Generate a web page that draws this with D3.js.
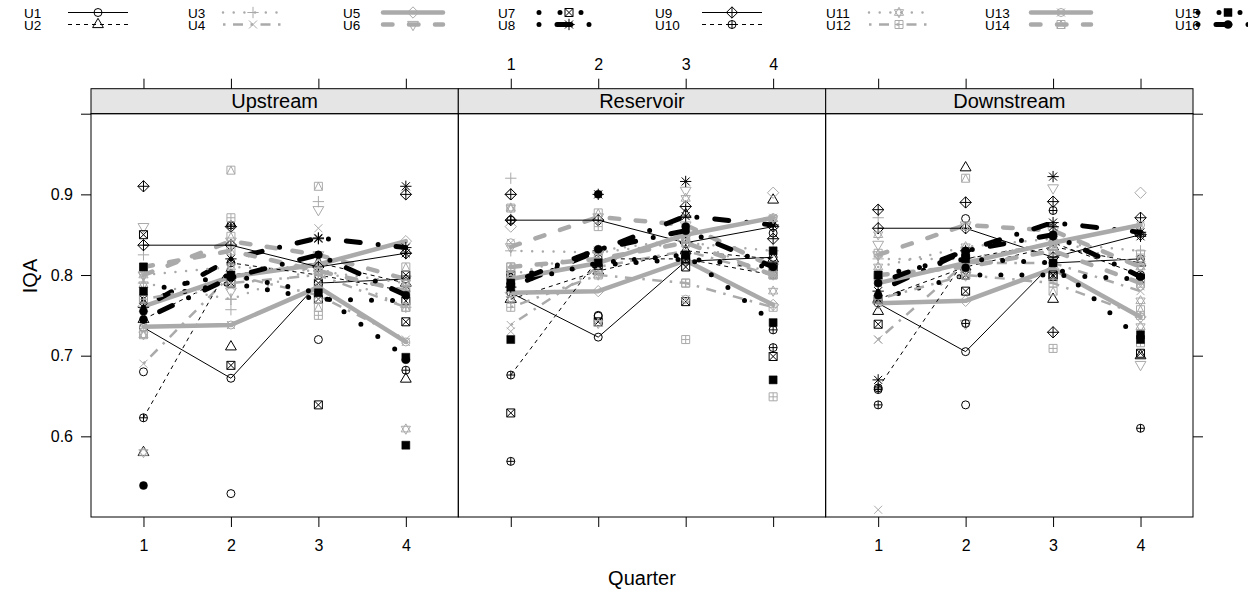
<!DOCTYPE html>
<meta charset="utf-8">
<script src="https://cdn.jsdelivr.net/npm/d3@7"></script>
<style>
  body { margin: 0; background: #fff; }
  text { font-family: "Liberation Sans", Arial, sans-serif; fill: #000; }
</style>
<div id="chart"></div>
<script>
const panels = ["Upstream", "Reservoir", "Downstream"];
const quarters = [1, 2, 3, 4];
const groups = ["U1","U2","U3","U4","U5","U6","U7","U8","U9","U10","U11","U12","U13","U14","U15","U16"];
const yTicks = [0.6, 0.7, 0.8, 0.9, 1.0];

// quarterly averages (line vertices), one row per group
const meanUp = [
  [0.735, 0.672, 0.790, 0.795], [0.745, 0.800, 0.815, 0.790],
  [0.790, 0.770, 0.810, 0.760], [0.690, 0.800, 0.775, 0.720],
  [0.761, 0.798, 0.813, 0.842], [0.800, 0.842, 0.825, 0.795],
  [0.770, 0.790, 0.770, 0.768], [0.760, 0.820, 0.846, 0.834],
  [0.837, 0.837, 0.810, 0.827], [0.623, 0.815, 0.800, 0.780],
  [0.800, 0.810, 0.805, 0.790], [0.770, 0.790, 0.800, 0.760],
  [0.736, 0.738, 0.785, 0.717], [0.810, 0.830, 0.805, 0.780],
  [0.780, 0.800, 0.778, 0.698], [0.745, 0.797, 0.825, 0.775]
];
const meanRes = [
  [0.778, 0.723, 0.817, 0.822], [0.770, 0.805, 0.830, 0.820],
  [0.830, 0.828, 0.840, 0.830], [0.738, 0.810, 0.830, 0.800],
  [0.778, 0.780, 0.818, 0.763], [0.835, 0.872, 0.862, 0.810],
  [0.800, 0.812, 0.820, 0.810], [0.785, 0.830, 0.873, 0.862],
  [0.868, 0.868, 0.840, 0.860], [0.676, 0.820, 0.820, 0.800],
  [0.800, 0.830, 0.845, 0.800], [0.760, 0.800, 0.790, 0.760],
  [0.795, 0.815, 0.850, 0.871], [0.810, 0.820, 0.840, 0.800],
  [0.790, 0.815, 0.825, 0.741], [0.790, 0.832, 0.855, 0.810]
];
const meanDown = [
  [0.765, 0.705, 0.815, 0.820], [0.770, 0.810, 0.835, 0.815],
  [0.820, 0.820, 0.840, 0.830], [0.720, 0.815, 0.815, 0.780],
  [0.765, 0.768, 0.808, 0.748], [0.825, 0.862, 0.855, 0.810],
  [0.770, 0.800, 0.800, 0.795], [0.780, 0.830, 0.865, 0.853],
  [0.858, 0.858, 0.822, 0.850], [0.660, 0.820, 0.840, 0.800],
  [0.810, 0.835, 0.845, 0.810], [0.770, 0.800, 0.790, 0.750],
  [0.790, 0.815, 0.840, 0.862], [0.800, 0.810, 0.830, 0.790],
  [0.800, 0.820, 0.815, 0.720], [0.790, 0.830, 0.850, 0.798]
];

// other observations: [group, quarter, IQA]
const obsUp = [
  ["U9",1,0.91],["U6",1,0.86],["U7",1,0.85],["U3",1,0.825],["U15",1,0.81],["U11",1,0.788],
  ["U16",1,0.755],["U11",1,0.726],["U14",1,0.726],["U1",1,0.68],["U2",1,0.58],["U11",1,0.58],["U16",1,0.539],
  ["U14",2,0.93],["U12",2,0.871],["U10",2,0.862],["U9",2,0.86],["U14",2,0.848],["U4",2,0.786],
  ["U3",2,0.77],["U3",2,0.757],["U2",2,0.711],["U7",2,0.688],["U1",2,0.529],["U6",2,0.78],
  ["U14",3,0.91],["U3",3,0.891],["U6",3,0.881],["U4",3,0.858],["U8",3,0.845],["U7",3,0.79],
  ["U10",3,0.78],["U12",3,0.75],["U1",3,0.72],["U7",3,0.639],["U13",3,0.77],["U14",3,0.76],
  ["U8",4,0.91],["U9",4,0.90],["U8",4,0.827],["U14",4,0.81],["U7",4,0.80],["U11",4,0.79],
  ["U14",4,0.76],["U7",4,0.742],["U16",4,0.695],["U10",4,0.682],["U2",4,0.671],["U11",4,0.609],["U15",4,0.589]
];
const obsRes = [
  ["U3",1,0.92],["U5",1,0.90],["U9",1,0.90],["U11",1,0.883],["U14",1,0.883],["U10",1,0.868],["U5",1,0.86],
  ["U13",1,0.84],["U12",1,0.81],["U15",1,0.785],["U11",1,0.77],["U2",1,0.77],["U4",1,0.73],["U15",1,0.72],
  ["U7",1,0.629],["U10",1,0.569],
  ["U16",2,0.90],["U8",2,0.90],["U14",2,0.877],["U12",2,0.86],["U11",2,0.80],["U1",2,0.749],
  ["U7",2,0.742],["U11",2,0.74],["U1",2,0.75],
  ["U8",3,0.916],["U6",3,0.905],["U11",3,0.895],["U9",3,0.885],["U2",3,0.875],["U16",3,0.86],
  ["U14",3,0.845],["U7",3,0.81],["U12",3,0.79],["U13",3,0.77],["U7",3,0.767],["U12",3,0.72],
  ["U5",4,0.902],["U2",4,0.893],["U11",4,0.87],["U1",4,0.852],["U9",4,0.845],["U15",4,0.83],
  ["U14",4,0.80],["U11",4,0.78],["U10",4,0.732],["U10",4,0.71],["U7",4,0.699],["U15",4,0.67],["U12",4,0.649]
];
const obsDown = [
  ["U9",1,0.881],["U3",1,0.871],["U11",1,0.85],["U6",1,0.838],["U14",1,0.827],["U12",1,0.797],
  ["U16",1,0.775],["U2",1,0.755],["U7",1,0.739],["U4",1,0.72],["U8",1,0.67],["U10",1,0.658],
  ["U10",1,0.639],["U4",1,0.509],
  ["U2",2,0.933],["U14",2,0.92],["U9",2,0.89],["U1",2,0.87],["U11",2,0.86],["U15",2,0.827],
  ["U16",2,0.809],["U6",2,0.80],["U7",2,0.78],["U10",2,0.74],["U6",2,0.74],["U1",2,0.639],
  ["U8",3,0.922],["U6",3,0.908],["U9",3,0.891],["U10",3,0.88],["U8",3,0.86],["U16",3,0.848],
  ["U11",3,0.835],["U7",3,0.798],["U14",3,0.78],["U2",3,0.77],["U9",3,0.729],["U12",3,0.709],
  ["U5",4,0.902],["U9",4,0.871],["U8",4,0.848],["U12",4,0.826],["U11",4,0.82],["U13",4,0.786],
  ["U11",4,0.768],["U14",4,0.757],["U11",4,0.736],["U15",4,0.726],["U12",4,0.716],["U7",4,0.703],
  ["U2",4,0.70],["U6",4,0.689],["U10",4,0.61]
];

const means = [meanUp, meanRes, meanDown];
const obs = [obsUp, obsRes, obsDown];

// line styles cycle every 8 groups
const black = "#000", grey = "#aaaaaa";
const styles = [
  {col: black, w: 1, dash: null, cap: "butt"},
  {col: black, w: 1, dash: "4,4", cap: "butt"},
  {col: grey, w: 2.5, dash: "0,10.7", cap: "round"},
  {col: grey, w: 2.5, dash: "2.5,7.5,10,7.5", cap: "butt"},
  {col: grey, w: 4.5, dash: null, cap: "round"},
  {col: grey, w: 4.5, dash: "9.5,16.5", cap: "round"},
  {col: black, w: 5, dash: "0,21", cap: "round"},
  {col: black, w: 5, dash: "0,18,14,18", cap: "round"}
];
const styleOf = i => styles[i % 8];

const width = 1248, height = 592;
const svg = d3.select("#chart").append("svg")
  .attr("width", width).attr("height", height);

const pLeft = [91, 458.3, 825.7], pW = 367.3, pTop = 113.7, pH = 403.3;
const stripH = 25;

const x = d3.scaleLinear().domain([0.4, 4.6]).range([0, pW]);
const y = d3.scaleLinear().domain([0.5, 1.0]).range([pH, 0]);

// symbols after R pch 1..16
const r = 4, s2 = Math.SQRT2 * r;
const circ = a => `M${a},0A${a},${a} 0 1 1 ${-a},0A${a},${a} 0 1 1 ${a},0Z`;
const sq = `M${-r},${-r}H${r}V${r}H${-r}Z`;
const plus = a => `M${-a},0H${a}M0,${-a}V${a}`;
const cross = a => `M${-a},${-a}L${a},${a}M${-a},${a}L${a},${-a}`;
const dia = a => `M0,${-a}L${a},0L0,${a}L${-a},0Z`;
const triUp = "M0,-6.2L5.4,3.1L-5.4,3.1Z";
const triDn = "M0,6.2L5.4,-3.1L-5.4,-3.1Z";
function symPath(pch) {
  switch (pch) {
    case 1: return circ(r);
    case 2: return triUp;
    case 3: return plus(s2);
    case 4: return cross(r);
    case 5: return dia(s2);
    case 6: return triDn;
    case 7: return sq + cross(r);
    case 8: return plus(s2) + cross(r);
    case 9: return dia(s2) + plus(s2);
    case 10: return circ(r) + plus(r);
    case 11: return "M0,-5.2L4.6,2.8L-4.6,2.8ZM0,5.2L4.6,-2.8L-4.6,-2.8Z";
    case 12: return sq + plus(r);
    case 13: return circ(r) + cross(r);
    case 14: return sq + `M${-r},${r}L0,${-r}L${r},${r}`;
    case 15: return sq;
    case 16: return circ(r);
  }
}
function drawSym(g, i, cx, cy) {
  const pch = i + 1, st = styleOf(i);
  const filled = pch >= 15;
  g.append("path")
    .attr("transform", `translate(${cx},${cy})`)
    .attr("d", symPath(pch))
    .attr("fill", filled ? st.col : "none")
    .attr("stroke", st.col)
    .attr("stroke-width", filled ? 0.5 : 1);
}
function styleLine(sel, i) {
  const st = styleOf(i);
  sel.attr("fill", "none")
    .attr("stroke", st.col)
    .attr("stroke-width", st.w)
    .attr("stroke-linecap", st.cap)
    .attr("stroke-linejoin", "round")
    .attr("stroke-dasharray", st.dash);
}

// legend: 8 columns of 2 rows
const legCols = [
  {tx: 24, sx: 98}, {tx: 188, sx: 253}, {tx: 343, sx: 413}, {tx: 498, sx: 569},
  {tx: 655, sx: 732}, {tx: 826, sx: 899}, {tx: 985, sx: 1061}, {tx: 1175, sx: 1228}
];
const legRows = [12.5, 24.5];
const leg = svg.append("g");
groups.forEach((name, i) => {
  const c = legCols[Math.floor(i / 2)], yy = legRows[i % 2];
  leg.append("text").attr("x", c.tx).attr("y", yy + 5)
    .style("font-size", "13.5px").text(name);
  leg.append("line").attr("x1", c.sx - 30).attr("x2", c.sx + 30)
    .attr("y1", yy).attr("y2", yy).call(styleLine, i);
  drawSym(leg, i, c.sx, yy);
});

panels.forEach((pname, p) => {
  const g = svg.append("g").attr("transform", `translate(${pLeft[p]},${pTop})`);

  // strip
  g.append("rect").attr("x", 0).attr("y", -stripH).attr("width", pW).attr("height", stripH)
    .attr("fill", "#e5e5e5").attr("stroke", "#000").attr("stroke-width", 1);
  g.append("text").attr("x", pW / 2).attr("y", -stripH / 2).attr("dy", "0.36em")
    .attr("text-anchor", "middle").style("font-size", "20px").text(pname);

  // axes: ticks on all sides, labels alternate
  const top = g.append("g").attr("transform", `translate(0,${-stripH})`)
    .call(d3.axisTop(x).tickValues(quarters).tickSize(10).tickPadding(9)
      .tickFormat(p === 1 ? d3.format("d") : () => ""));
  const bot = g.append("g").attr("transform", `translate(0,${pH})`)
    .call(d3.axisBottom(x).tickValues(quarters).tickSize(10).tickPadding(13)
      .tickFormat(p !== 1 ? d3.format("d") : () => ""));
  [top, bot].forEach(a => {
    a.select(".domain").remove();
    a.selectAll("text").style("font-size", "16px").attr("fill", "#000");
  });
  if (p === 0) {
    const ax = g.append("g").call(d3.axisLeft(y).tickValues(yTicks).tickSize(10).tickPadding(8)
      .tickFormat(d => d < 0.95 ? d.toFixed(1) : ""));
    ax.select(".domain").remove();
    ax.selectAll("text").style("font-size", "16px").attr("fill", "#000");
  }
  if (p === 2) {
    const ax = g.append("g").attr("transform", `translate(${pW},0)`)
      .call(d3.axisRight(y).tickValues(yTicks).tickSize(10).tickFormat(() => ""));
    ax.select(".domain").remove();
  }

  // points then average line for each group
  const line = d3.line().x((d, k) => x(quarters[k])).y(d => y(d));
  groups.forEach((name, i) => {
    const gg = g.append("g");
    means[p][i].forEach((v, k) => drawSym(gg, i, x(quarters[k]), y(v)));
    obs[p].filter(o => o[0] === name)
      .forEach(o => drawSym(gg, i, x(o[1]), y(o[2])));
    gg.append("path").attr("d", line(means[p][i])).call(styleLine, i);
  });

  g.append("rect").attr("width", pW).attr("height", pH)
    .attr("fill", "none").attr("stroke", "#000").attr("stroke-width", 1);
});

svg.append("text").attr("x", (pLeft[0] + pLeft[2] + pW) / 2).attr("y", 585)
  .attr("text-anchor", "middle").style("font-size", "20px").text("Quarter");
svg.append("text").attr("transform", "translate(37,276) rotate(-90)")
  .attr("text-anchor", "middle").style("font-size", "20px").text("IQA");
</script>
